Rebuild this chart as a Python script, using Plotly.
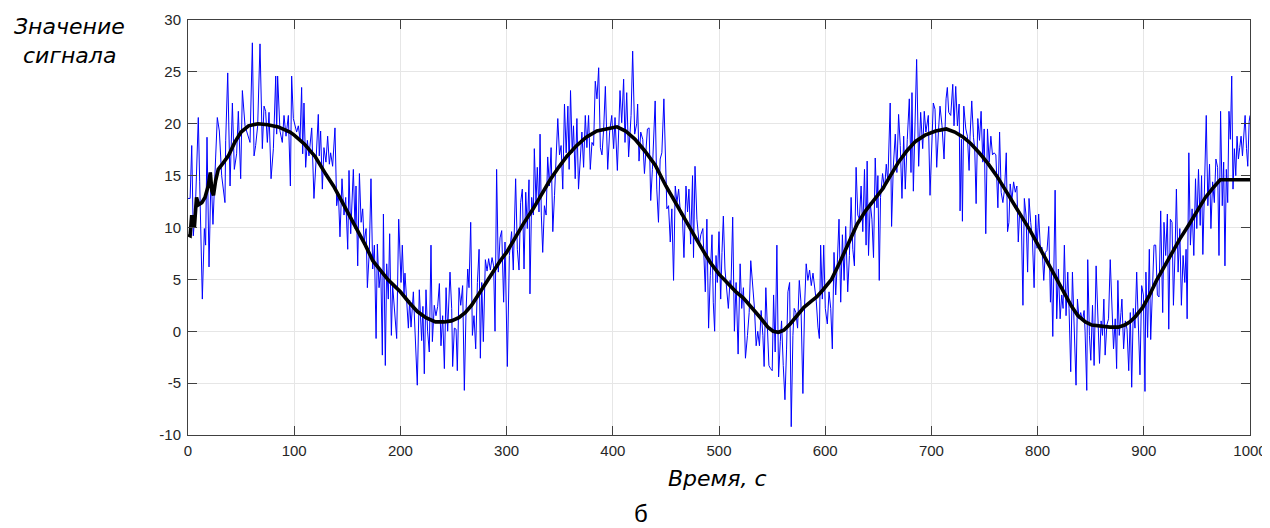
import plotly.graph_objects as go

# ---- noisy signal (blue) ----
tA = [0, 2, 3.5, 5, 7, 9.7, 11, 13.5, 15.4, 16.6, 17.9, 19.8, 21.7, 23.5, 26, 27.6, 29.5, 31.7, 34.8, 35.5,
      37.4, 39.6, 41.8, 43.6, 45.8, 47.4, 49.6, 51.2, 53.7, 56.2, 58.4, 60.6, 62.2, 63.7, 65.6, 67.8, 70, 71.6,
      73.1, 74.7, 76.3, 78.2, 80.4, 82.6, 83.5, 84.4, 86.6, 88.8, 90.4, 92.3, 94.5, 96.4, 97.6, 99.2]
vA = [12.8, 12.8, 17.9, 9.2, 12.0, 20.6, 14.4, 3.1, 9.9, 8.3, 18.7, 6.2, 15.3, 10.3, 16.7, 20.6, 19.3, 15.0, 12.4, 18.4,
      24.9, 14.0, 22.0, 15.6, 17.1, 21.2, 14.7, 23.2, 19.8, 19.0, 18.2, 27.8, 16.9, 17.9, 19.8, 27.7, 17.6, 21.7,
      21.2, 18.2, 21.1, 14.7, 17.6, 24.6, 19.0, 24.6, 19.3, 18.2, 20.8, 18.8, 20.8, 14.0, 24.6, 20.5]

tB = [102.3, 103.9, 105.5, 107, 108, 109.2, 110.8, 112.4, 113.9, 116.5, 118.6, 120.5, 122.7, 123.6, 124.9, 126.5,
      128, 129.9, 131.5, 133.1, 134.3, 136.2, 138.4, 140, 141.6, 143.1, 145, 146.9, 148.5, 150.4, 151.6, 153.2,
      154.1, 155.7, 157.3, 158.2, 159.8, 161.4, 163, 164.5, 165.8, 167.7, 168.9, 170.8, 172.3, 173.9, 175.5, 177.1,
      178.3, 179.9, 181.5, 183, 184, 185.8, 187.1, 188.6, 189.9, 191.5, 192.7, 194.6, 196.5, 198.4]
vB = [19.2, 19.8, 18.5, 23.5, 17.1, 22.0, 15.8, 18.4, 16.9, 19.6, 12.8, 16.3, 20.9, 16.9, 19.3, 13.7,
      17.7, 16.3, 18.8, 16.1, 17.2, 15.9, 19.6, 12.1, 13.4, 9.1, 14.7, 11.2, 12.9, 7.9, 15.5, 9.4,
      12.4, 15.6, 9.9, 14.0, 6.3, 15.2, 10.5, 11.8, 8.6, 9.9, 4.2, 7.9, 14.7, 6.0, 8.3, -0.7,
      8.4, 4.2, 6.0, -2.3, 11.3, -3.3, 6.5, 3.1, 9.4, -0.4, 4.4, 2.2, -0.7, 10.8]

tC = [200.6, 201.8, 203.4, 204.3, 205.9, 207.5, 208.7, 210, 212.2, 213.7, 215.9, 217.8, 220, 221.2, 222.5, 224.1,
      225.6, 227.2, 228.8, 230.1, 231.9, 233.5, 235.1, 236.7, 238.2, 239.8, 241.4, 243, 244.5, 246.7, 248.3, 249.2,
      250.8, 252.4, 253.6, 255.2, 256.8, 258.6, 260.2, 261.8, 263.4, 264.6, 266.2, 267.8, 269.3, 270.9, 272.5, 274.1,
      275.3, 276.6, 278.1, 280, 281.6, 283.1, 284.7, 286.3, 287.8, 289.1, 290.6, 292.2, 293.8, 295.4, 297.2, 298.5]
vC = [4.7, 8.3, 3.5, 5.6, 2.5, 0.3, 3.0, 0.4, 3.8, -0.4, -5.2, 4.0, -0.9, 2.4, -4.1, 4.0,
      0.0, -2.0, 8.3, -1.0, 2.5, 1.5, 2.4, 4.6, -1.4, 1.5, -3.6, 4.2, 0.0, 5.7, 2.2, -3.4,
      0.3, 0.2, -3.8, 4.2, 2.5, 4.4, -5.7, 1.9, 6.0, 4.2, 10.5, -0.4, 1.5, -1.7, 4.7, 7.9,
      -2.6, 4.7, -1.0, 6.9, 5.8, 7.0, 5.9, 7.1, 6.3, 0.0, 15.6, 5.7, 9.0, 9.7, 2.8, 8.6]

tD = [300.7, 302.6, 304.7, 306.3, 308.5, 310.1, 311.7, 313.2, 314.8, 316.4, 318, 319.5, 321.1, 322, 323.6, 325.2,
      326.1, 327.7, 328.9, 330.5, 331.5, 332.7, 334, 335.6, 337.2, 338.7, 340.3, 341.9, 343.5, 345.1, 346.6, 348.2,
      349.8, 351.3, 352.9, 354.5, 356.1, 357.7, 358.9, 360.2, 361.8, 363, 364.6, 366.2, 367.7, 369.3, 370.9, 372.5,
      374.1, 375.6, 377.2, 378.8, 380.4, 381.9, 383.5, 385.1, 386.7, 388.3, 389.8, 391.4, 393, 395.2, 397]
vD = [-3.4, 7.3, 9.6, 5.9, 14.7, 7.9, 5.9, 12.4, 13.7, 6.0, 13.4, 9.9, 14.6, 3.6, 12.9, 11.2,
      17.6, 12.4, 15.8, 11.5, 19.0, 11.2, 7.6, 12.1, 11.2, 16.8, 14.0, 17.7, 9.6, 13.1, 16.6, 20.5,
      17.0, 17.9, 13.7, 21.9, 17.2, 21.7, 15.6, 23.2, 17.2, 19.8, 14.7, 20.5, 13.7, 17.0, 19.2, 15.8,
      20.8, 17.7, 20.8, 15.6, 18.2, 17.9, 24.1, 22.4, 25.4, 17.7, 17.0, 19.5, 23.6, 15.6, 19.2]

tE = [399, 400.8, 402.1, 404.3, 406.8, 408.4, 410.2, 411.5, 413.1, 414.9, 417.2, 418.7, 420.6, 422.5, 423.4, 424.7,
      426.3, 428.2, 429.8, 431, 432.6, 434.2, 435.7, 437.3, 438.9, 439.9, 441.4, 443, 444.6, 446.2, 448.1, 449.3,
      450.9, 452.5, 454.1, 455.6, 457.2, 458.8, 460.4, 462, 463.8, 465.4, 467, 468.9, 470.4, 471.7, 473.3, 475.1,
      476, 477.4, 479.2, 481.4, 482.9, 484.8, 486.1, 487.1, 488.6, 490.2, 491.8, 493.4, 494.6, 495.9]
vE = [20.8, 17.6, 20.6, 15.5, 23.2, 20.1, 24.3, 18.2, 23.0, 16.8, 20.8, 27.0, 19.0, 20.0, 21.9, 16.4,
      19.2, 18.5, 15.2, 17.6, 19.5, 19.6, 12.6, 15.6, 18.8, 22.2, 13.7, 10.5, 16.6, 17.2, 22.4, 18.2,
      11.8, 12.1, 8.6, 11.8, 4.9, 14.0, 12.4, 13.7, 11.2, 11.5, 7.1, 14.0, 11.5, 13.7, 8.4, 15.0,
      7.1, 15.9, 10.8, 8.3, 9.3, 9.9, 5.7, 3.8, 10.8, 0.3, 5.4, 9.3, 2.8, 0.0]

tF = [497.2, 498.4, 500, 501.6, 502.8, 504.1, 505.6, 507.2, 508.8, 510.4, 511.3, 512.9, 514.5, 516.1, 518, 519.9,
      521.4, 523, 524.9, 526.8, 528.4, 529.9, 531.8, 533.4, 535, 536.5, 538.1, 539.7, 541.3, 542.5, 544.1, 545.7,
      547, 548.5, 550.1, 551.4, 552.9, 554.5, 556.1, 557.7, 558.9, 560.5, 562.1, 563.6, 564.9, 566.5, 568, 569.6,
      570.8, 572.4, 574, 575.6, 577.1, 579, 580.6, 582.1, 583.7, 585.3, 586.9, 588.5, 590, 591.6, 593.2, 594.5]
vF = [7.3, 4.7, 9.6, 3.1, 7.6, 11.1, 6.0, 4.2, 2.2, 4.9, 4.4, 11.0, 0.0, 4.7, -2.2, 6.5,
      2.2, 4.2, -2.6, -0.4, 1.8, 6.8, 4.7, 2.2, -1.4, 0.0, -1.4, 2.0, -0.4, -3.4, 4.2, -1.0,
      -3.3, -3.6, -3.8, 3.5, -2.0, 8.3, -4.4, -1.0, 1.0, -3.3, -6.6, -1.8, 3.8, 4.7, -9.2, -0.4,
      2.2, 1.8, 0.3, 4.9, 2.9, -6.0, 2.5, 6.5, 4.9, 5.9, 4.4, 5.6, 4.4, 2.9, 0.4, -0.7]

tG = [595.7, 597.3, 598.6, 600.1, 602, 603.6, 605.2, 606.7, 608.3, 609.9, 611.4, 613, 614.6, 616.2, 617.8, 619.3,
      621.2, 622.8, 624.4, 626, 627.5, 629.1, 630.7, 632.2, 633.8, 635.4, 637, 638.5, 639.5, 640.8, 642.4, 644,
      645.5, 647.1, 648.7, 649.6, 650.9, 652.1, 654, 655.9, 657.5, 659, 661.2, 662.5, 664.1, 666, 667.5, 669.1,
      670.7, 672.3, 673.9, 675.4, 677.3, 679.2, 680.8, 681.7, 683, 684.2, 686.1, 688, 689.9, 691.8, 693.3]
vG = [8.3, 3.1, 8.3, 2.2, 0.7, 3.8, 2.2, -1.7, 7.6, 3.5, 6.6, 10.8, 2.8, 9.3, 4.9, 10.1,
      3.8, 7.3, 12.9, 7.9, 6.3, 15.8, 11.2, 10.8, 14.0, 9.6, 15.6, 8.3, 16.4, 7.3, 12.4, 10.8,
      7.1, 16.7, 11.9, 15.0, 4.9, 12.9, 15.2, 13.7, 16.1, 14.4, 22.0, 10.1, 15.8, 19.0, 15.3, 20.9,
      17.9, 12.8, 18.8, 13.7, 18.5, 22.4, 15.3, 23.0, 13.5, 19.2, 26.2, 15.9, 21.1, 17.6, 21.2]

tH = [694.8, 697.1, 698.7, 700.3, 701.8, 703.4, 705, 706.6, 708.1, 710, 711.9, 713.8, 715, 716.3, 718.2, 720.1,
      721.3, 722.9, 724.5, 726.1, 727, 728.3, 729.2, 730.5, 732.4, 733.9, 735.5, 736.4, 738, 739.6, 740.8, 742.1,
      743.7, 745.3, 746.8, 748.4, 749.7, 751.2, 752.8, 754.4, 756, 757.5, 759.1, 760.7, 762.6, 764.2, 765.7, 767.3,
      768.9, 770.5, 771.7, 773, 774.2, 775.8, 777.4, 779, 780.5, 781.8, 783.1, 784.6, 786.2, 787.5, 789.1, 790.6,
      791.9, 793.5]
vH = [19.2, 20.8, 13.1, 17.0, 22.0, 21.4, 15.8, 19.2, 21.7, 19.8, 16.6, 22.4, 23.5, 21.1, 20.8, 23.8,
      19.8, 23.6, 19.8, 21.9, 11.6, 18.5, 10.6, 21.7, 19.5, 18.8, 15.5, 18.8, 22.2, 18.7, 17.6, 12.3,
      20.5, 18.4, 21.2, 16.3, 19.5, 9.4, 19.5, 16.3, 18.8, 17.0, 17.2, 17.0, 11.9, 19.2, 13.4, 12.4,
      13.7, 17.2, 9.6, 10.5, 14.2, 12.6, 14.4, 13.4, 14.0, 8.6, 11.5, 11.2, 2.5, 12.8, 11.2, 5.7,
      12.8, 10.5]

tI = [795.1, 796.7, 798.2, 799.5, 801, 802.6, 804.2, 805.8, 807.3, 808.9, 810.5, 812.1, 813, 814.3, 816.5, 818,
      819.6, 821.2, 822.7, 824, 825.2, 826.8, 828.4, 829.6, 831.2, 832.8, 834.3, 836.2, 837.5, 839, 840.6, 842.2,
      843.8, 844.7, 846.3, 847.2, 848.8, 850.1, 851.7, 853.2, 855.1, 856.7, 858.3, 859.8, 861.1, 862.4, 863.6, 865.2,
      866.8, 868.4, 870, 871.5, 873.1, 874.4, 875.6, 876.9, 878.5, 879.4, 881, 882.6, 884.2, 885.8, 887.3, 888.6,
      890.1]
vI = [8.9, 4.2, 11.2, 8.0, 11.3, 8.0, 8.1, 4.9, 7.6, 7.8, 10.1, 2.8, 6.0, -0.5, 13.6, 1.2,
      6.0, 1.2, 3.5, 2.2, 8.3, 1.5, 5.7, 2.2, -3.9, 5.7, 0.0, -5.2, 3.1, 1.2, 1.8, 1.0,
      2.0, 0.0, -5.7, 6.9, -0.4, -2.8, 2.5, -3.3, 6.3, 2.2, -3.1, 1.0, -0.4, 3.1, -2.3, 0.6,
      1.2, 6.9, 1.5, -1.7, 1.2, -3.6, 4.9, -0.4, 1.8, 3.1, -1.7, 1.0, 0.2, -3.8, 1.8, -5.4,
      2.2]

tJ = [891.7, 893.3, 894.8, 896.4, 898, 899.6, 901.1, 902, 903.6, 905.2, 906.5, 908, 909.6, 911.2, 912.8, 914.3,
      915.9, 917.8, 919, 920.6, 922.2, 923.5, 925, 926.6, 927.9, 929.5, 930.7, 932.3, 933.9, 935.4, 937, 938.6,
      939.8, 940.8, 942.4, 943.9, 945.5, 947.1, 948.7, 949.9, 951.5, 953.1, 954.4, 955.6, 957.2, 958.8, 960.3, 961.9,
      963.2, 964.8, 966.4, 967.9, 969.5, 970.8, 972.3, 973.9, 975.2, 976.4, 977.7, 979, 980.2, 981.5, 982.8, 984,
      985.3, 986.6, 987.8, 989.1, 990.3, 991.6, 992.9, 994.1, 995.4, 996.7, 997.9, 999.2, 1000]
vJ = [0.3, 5.7, 0.0, -4.2, 4.4, 3.5, -5.8, 5.7, -0.6, 7.9, -0.8, 4.2, 8.3, 8.3, 3.5, 3.3,
      11.6, 1.8, 10.5, 7.3, 11.3, 0.2, 10.8, 10.5, 2.5, 7.9, 13.7, 5.7, 9.9, 2.5, 7.3, 4.7,
      7.9, 1.2, 17.2, 8.3, 11.8, 7.3, 14.7, 9.9, 15.6, 10.2, 15.0, 7.4, 15.0, 20.8, 12.1, 16.1,
      9.9, 14.4, 12.4, 16.6, 15.8, 7.3, 21.2, 12.1, 16.3, 6.3, 15.6, 12.4, 21.2, 18.5, 24.6, 13.7,
      17.6, 15.0, 18.8, 16.6, 17.7, 18.8, 16.9, 18.5, 20.8, 17.6, 15.9, 20.2, 20.8]

# ---- smoothed signal (black) ----
t_smooth = [0, 2, 3.5, 5, 6, 8, 10, 13, 16, 19, 21, 22.5, 24, 26, 28.5, 33, 38, 44, 50, 57,
            66, 75, 85, 96, 100, 110, 120, 130, 137, 145, 152, 159, 167, 174, 181, 188, 195, 200, 208, 216,
            224, 233, 241, 248, 255, 261, 267, 274, 281, 288, 294, 300, 308, 316, 325, 333, 341, 349, 357, 366,
            375, 385, 397, 404, 412, 421, 430, 440, 450, 462, 470, 478, 486, 492, 500, 508, 516, 523, 531, 539,
            546, 551, 556, 561, 567, 573, 580, 587, 592, 598, 606, 614, 622, 630, 638, 646, 654, 662, 669, 677,
            685, 694, 704, 714, 722, 730, 737, 745, 753, 762, 770, 778, 786, 793, 800, 808, 815, 820, 826, 832,
            838, 845, 851, 860, 868, 876, 882, 887, 892, 899, 905, 912, 920, 928, 934, 942, 950, 958, 965, 970,
            972, 980, 1000]
v_smooth = [9.3, 9.2, 11.2, 10.2, 10.0, 12.9, 12.2, 12.4, 12.9, 14.0, 15.3, 13.5, 13.1, 14.5, 15.6, 16.2, 16.9, 18.2, 19.2, 19.8,
            20.0, 19.9, 19.7, 19.2, 18.9, 18.0, 16.8, 15.1, 14.0, 12.5, 11.2, 9.9, 8.3, 6.8, 5.9, 5.0, 4.3, 3.8, 2.8, 1.9,
            1.3, 0.9, 0.9, 1.0, 1.3, 1.8, 2.5, 3.6, 4.8, 5.9, 6.8, 7.6, 9.0, 10.4, 11.8, 13.2, 14.6, 15.8, 16.9, 17.9,
            18.7, 19.3, 19.6, 19.7, 19.3, 18.5, 17.4, 16.0, 14.0, 11.8, 10.3, 9.0, 7.6, 6.6, 5.5, 4.6, 3.8, 3.2, 2.3, 1.3,
            0.4, 0.0, -0.1, 0.1, 0.7, 1.5, 2.3, 2.9, 3.3, 4.0, 5.0, 6.7, 8.6, 10.3, 11.6, 12.7, 13.7, 15.1, 16.3, 17.4,
            18.3, 18.9, 19.3, 19.5, 19.2, 18.7, 18.1, 17.2, 16.2, 14.9, 13.6, 12.2, 10.9, 9.7, 8.4, 6.9, 5.6, 4.6, 3.5, 2.4,
            1.5, 0.9, 0.6, 0.5, 0.4, 0.4, 0.6, 0.9, 1.4, 2.3, 3.4, 4.9, 6.4, 7.8, 8.9, 10.2, 11.6, 12.9, 13.8, 14.4,
            14.6, 14.6, 14.6]

x_ticks = [0, 100, 200, 300, 400, 500, 600, 700, 800, 900, 1000]
y_ticks = [-10, -5, 0, 5, 10, 15, 20, 25, 30]
y_tick_labels = ["-10", "-5", "0", "5", "10", "15", "20", "25", "30"]

segments_t = [tA, tB, tC, tD, tE, tF, tG, tH, tI, tJ]
segments_v = [vA, vB, vC, vD, vE, vF, vG, vH, vI, vJ]
for a, b in zip(segments_t, segments_v):
    assert len(a) == len(b), (len(a), len(b))
assert len(t_smooth) == len(v_smooth)

t_noisy = [t for seg in segments_t for t in seg]
v_noisy = [v for seg in segments_v for v in seg]

fig = go.Figure()
fig.add_trace(go.Scatter(x=t_noisy, y=v_noisy, mode="lines",
                         line=dict(color="#0000ff", width=1), hoverinfo="skip"))
fig.add_trace(go.Scatter(x=t_smooth, y=v_smooth, mode="lines",
                         line=dict(color="#000000", width=3.6), hoverinfo="skip"))

axis_common = dict(
    showgrid=True, gridcolor="#e6e6e6", gridwidth=1,
    showline=True, linecolor="#404040", linewidth=1, mirror="ticks",
    ticks="inside", ticklen=9, tickcolor="#404040", tickwidth=1,
    tickfont=dict(family="Liberation Sans", size=15, color="#262626"),
    zeroline=False, automargin=False,
)

# page body has an 8px margin, so the figure is offset by 8px from the window corner
fig.update_layout(
    width=1262, height=520,
    margin=dict(l=180, r=20, t=12, b=93, autoexpand=False),
    plot_bgcolor="white", paper_bgcolor="white",
    showlegend=False,
    xaxis=dict(range=[0, 1000], tickvals=x_ticks, ticklabelstandoff=2, **axis_common),
    yaxis=dict(range=[-10, 30], tickvals=y_ticks, ticktext=y_tick_labels,
               ticklabelstandoff=3, **axis_common),
)

PL, PW, PB, PH = 188, 1062, 435, 415  # plot-area frame (window pixels) for placing annotations

title_font = dict(family="DejaVu Sans", size=22, color="#000000")
fig.add_annotation(text="<i>Значение</i>", xref="paper", yref="paper",
                   x=(69 - PL) / PW, y=(PB - 26) / PH, showarrow=False,
                   xanchor="center", yanchor="middle", font=title_font)
fig.add_annotation(text="<i>сигнала</i>", xref="paper", yref="paper",
                   x=(69 - PL) / PW, y=(PB - 55) / PH, showarrow=False,
                   xanchor="center", yanchor="middle", font=title_font)
fig.add_annotation(text="<i>Время, с</i>", xref="paper", yref="paper",
                   x=(717 - PL) / PW, y=(PB - 478) / PH, showarrow=False,
                   xanchor="center", yanchor="middle", font=title_font)
fig.add_annotation(text="б", xref="paper", yref="paper",
                   x=(641 - PL) / PW, y=(PB - 513) / PH, showarrow=False,
                   xanchor="center", yanchor="middle",
                   font=dict(family="Liberation Sans", size=24, color="#000000"))

fig.write_html("out.html")
